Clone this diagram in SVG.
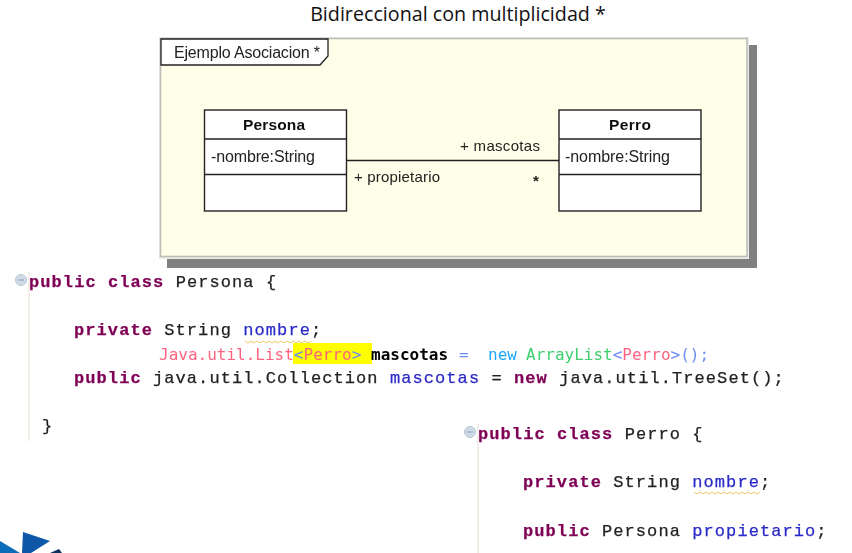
<svg xmlns="http://www.w3.org/2000/svg" width="852" height="553" viewBox="0 0 852 553">
<defs>
<filter id="soft" x="-5%" y="-5%" width="110%" height="110%"><feGaussianBlur stdDeviation="0.55"/></filter>
</defs>
<style>
.t{font-family:"Liberation Sans",Arial,sans-serif;fill:#222;font-size:15px}
.b{font-weight:bold;text-anchor:middle;fill:#111;font-size:15.5px}
.a{font-size:16px}
.c{font-family:"Liberation Mono","Courier New",monospace;font-size:17px;letter-spacing:1.08px;fill:#222;stroke:#222;stroke-width:.25px}
.k{fill:#7f0055;font-weight:bold;stroke:#7f0055}
.f{fill:#2a2ac8;stroke:#2a2ac8}
.n{font-family:"DejaVu Sans Mono",monospace;font-size:16px}
.box{fill:#fff;stroke:#222;stroke-width:1.4}
.sq{fill:none;stroke:#e8c860;stroke-width:1}
.gut{stroke:#f3eee6;stroke-width:2;fill:none}
.fold{fill:#cfdbe6;stroke:#b5c6d5;stroke-width:1}
</style>
<text x="458" y="21" text-anchor="middle" font-family="Open Sans,Liberation Sans,sans-serif" font-size="19.7" fill="#111">Bidireccional con multiplicidad *</text>
<g id="frame" filter="url(#soft)">
<rect x="167" y="45" width="590" height="223" fill="#808080"/>
<rect x="159" y="37" width="590" height="222" fill="#ececea"/>
<rect x="160.500" y="38.500" width="586.500" height="218" fill="#fffee8" stroke="#bdbdb6" stroke-width="1.600"/>
<path d="M161 39H328V56L320 65H161Z" fill="#fff" stroke="#222" stroke-width="1.3"/>
<text class="t a" x="174" y="58" textLength="146" lengthAdjust="spacing">Ejemplo Asociacion *</text>
</g>
<g id="connectors" filter="url(#soft)">
<path d="M347 160.500H559" stroke="#222" stroke-width="1.4" fill="none"/>
<text class="t" x="354" y="182" textLength="86">+ propietario</text>
<text class="t" x="460" y="151" textLength="80">+ mascotas</text>
<text class="t" x="533" y="186" font-weight="bold">*</text>
</g>
<g id="persona" filter="url(#soft)">
<rect class="box" x="204.500" y="110" width="142" height="101"/>
<path d="M204.500 139H346.500M204.500 174.500H346.500" stroke="#222" stroke-width="1.4"/>
<text class="t b" x="274" y="130" textLength="62">Persona</text>
<text class="t a" x="211" y="162" textLength="104">-nombre:String</text>
</g>
<g id="perro" filter="url(#soft)">
<rect class="box" x="559" y="110" width="142" height="101"/>
<path d="M559 139H701M559 174.500H701" stroke="#222" stroke-width="1.4"/>
<text class="t b" x="630" y="130" textLength="42">Perro</text>
<text class="t a" x="565" y="162" textLength="105">-nombre:String</text>
</g>
<g id="code-persona" filter="url(#soft)">
<path class="gut" d="M29 272V441"/>
<circle class="fold" cx="21" cy="280" r="5.500"/><path d="M18 280H24" stroke="#8fa3b8"/>
<text class="c" x="29" y="287"><tspan class="k">public class</tspan> Persona {</text>
<text class="c" x="74" y="335"><tspan class="k">private</tspan> String <tspan class="f">nombre</tspan>;</text>
<path class="sq" d="M245 341l3 2 3-2 3 2 3-2 3 2 3-2 3 2 3-2 3 2 3-2 3 2 3-2 3 2 3-2 3 2 3-2 3 2 3-2 3 2 3-2 3 2 3-2"/>
<rect x="293" y="343" width="79" height="21" fill="#ffff00"/>
<text class="n" x="159" y="360" fill="#ff6480">Java.util.List<tspan fill="#6c8cf0">&lt;</tspan>Perro<tspan fill="#6c8cf0">&gt;</tspan></text>
<text class="n" x="371" y="360" fill="#000" font-weight="bold">mascotas</text>
<text class="n" x="459" y="360" fill="#6c8cf0">=</text>
<text class="n" x="488" y="360" fill="#1aa7ff">new</text>
<text class="n" x="526" y="360" fill="#3ccf6e">ArrayList<tspan fill="#6c8cf0">&lt;</tspan><tspan fill="#ff6480">Perro</tspan><tspan fill="#6c8cf0">&gt;();</tspan></text>
<text class="c" x="74" y="383"><tspan class="k">public</tspan> java.util.Collection <tspan class="f">mascotas</tspan> = <tspan class="k">new</tspan> java.util.TreeSet();</text>
<text class="c" x="42" y="431">}</text>
</g>
<g id="code-perro" filter="url(#soft)">
<path class="gut" d="M478 424V553"/>
<circle class="fold" cx="470" cy="432" r="5.500"/><path d="M467 432H473" stroke="#8fa3b8"/>
<text class="c" x="478" y="439"><tspan class="k">public class</tspan> Perro {</text>
<text class="c" x="523" y="487"><tspan class="k">private</tspan> String <tspan class="f">nombre</tspan>;</text>
<path class="sq" d="M694 492l3 2 3-2 3 2 3-2 3 2 3-2 3 2 3-2 3 2 3-2 3 2 3-2 3 2 3-2 3 2 3-2 3 2 3-2 3 2 3-2 3 2 3-2"/>
<text class="c" x="523" y="536"><tspan class="k">public</tspan> Persona <tspan class="f">propietario</tspan>;</text>
</g>
<g id="logo" filter="url(#soft)">
<path d="M23 532L50 541L31 553H22Z" fill="#0b57a8"/>
<path d="M0 541L20 553H0Z" fill="#0f6cb8"/>
<path d="M50 553L59 549L62 553Z" fill="#10305c"/>
</g>
</svg>
